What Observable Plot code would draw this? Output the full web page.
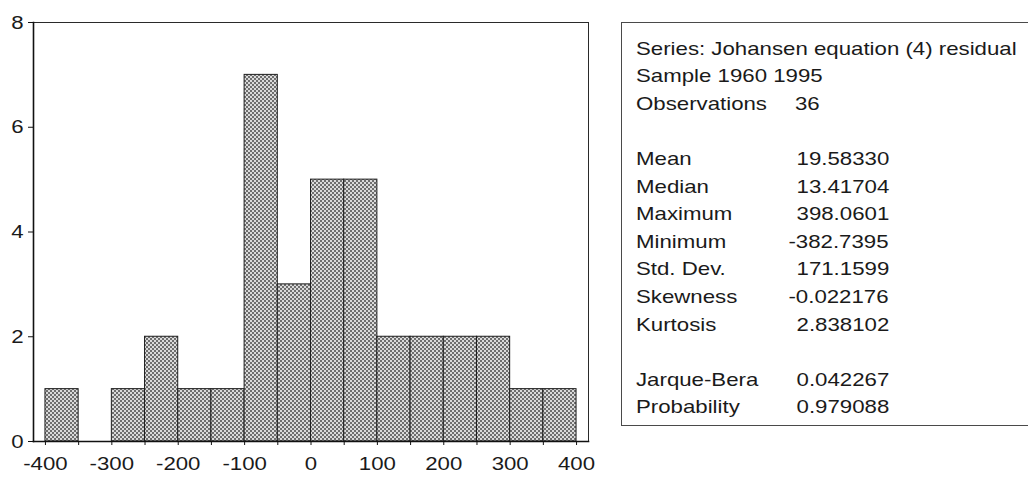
<!DOCTYPE html>
<html>
<head>
<meta charset="utf-8">
<script src="https://cdn.jsdelivr.net/npm/d3@7"></script>
<script src="https://cdn.jsdelivr.net/npm/@observablehq/plot@0.6"></script>
<style>
  html, body { margin: 0; padding: 0; background: #fff; }
  #wrap { position: relative; width: 1028px; height: 477px; overflow: hidden; font-family: "Liberation Sans", Arial, sans-serif; color: #1a1a1a; }
  #chart { position: absolute; left: 0; top: 0; }
  #stats { position: absolute; left: 621px; top: 22px; width: 430px; height: 404px; border: 1.5px solid #4a4a4a; box-sizing: border-box; }
  .row { position: absolute; left: 0; height: 27px; line-height: 27px; font-size: 19px; white-space: nowrap; }
  .lab { position: absolute; left: 14px; transform: scaleX(1.17); transform-origin: left center; }
  .val { position: absolute; transform: scaleX(1.17); transform-origin: right center; }
  .obs { position: absolute; transform: scaleX(1.17); transform-origin: left center; }
</style>
</head>
<body>
<div id="wrap">
  <div id="chart"></div>
  <div id="stats"></div>
</div>
<script>
// Histogram of the residuals: bins of width 50 from -400 to 400
const binEdges = [-400, -350, -300, -250, -200, -150, -100, -50, 0, 50, 100, 150, 200, 250, 300, 350, 400];
const binCounts = [1, 0, 1, 2, 1, 1, 7, 3, 5, 5, 2, 2, 2, 2, 1, 1];

// Axis ticks
const xTickMarks = [-400, -350, -300, -250, -200, -150, -100, -50, 0, 50, 100, 150, 200, 250, 300, 350, 400];
const xTickLabels = [-400, -300, -200, -100, 0, 100, 200, 300, 400];
const yTickLabels = [0, 2, 4, 6, 8];

// Descriptive statistics panel
const headerLines = ["Series: Johansen equation (4) residual", "Sample 1960 1995"];
const obsLabel = "Observations";
const obsValue = "36";
const statLabels = ["Mean", "Median", "Maximum", "Minimum", "Std. Dev.", "Skewness", "Kurtosis"];
const statValues = ["19.58330", "13.41704", "398.0601", "-382.7395", "171.1599", "-0.022176", "2.838102"];
const testLabels = ["Jarque-Bera", "Probability"];
const testValues = ["0.042267", "0.979088"];

const bins = binCounts.map((c, i) => ({x1: binEdges[i], x2: binEdges[i + 1], count: c}));

const stretch = 1.17;

const svg = Plot.plot({
  width: 600,
  height: 477,
  marginLeft: 33,
  marginRight: 12,
  marginTop: 22,
  marginBottom: 36,
  style: {fontFamily: "'Liberation Sans', Arial, sans-serif", fontSize: "19px", color: "#1a1a1a", background: "transparent"},
  x: {domain: [-418, 418]},
  y: {domain: [0, 8]},
  marks: [
    Plot.rectY(bins.filter(d => d.count > 0), {
      x1: "x1", x2: "x2", y: "count",
      fill: "url(#halftone)", stroke: "#1e1e1e", strokeWidth: 1, inset: 0
    }),
    Plot.frame({stroke: "#2a2a2a", strokeWidth: 1}),
    Plot.frame({anchor: "left", stroke: "#111", strokeWidth: 1.6}),
    Plot.frame({anchor: "bottom", stroke: "#111", strokeWidth: 1.6}),
    Plot.axisX({
      ticks: xTickMarks, tickSize: 4, tickPadding: 11, stroke: "#111",
      tickFormat: d => xTickLabels.includes(d) ? String(d) : "", label: null
    }),
    Plot.axisY({
      ticks: yTickLabels, tickSize: 5, tickPadding: 5, stroke: "#111",
      tickFormat: d => String(d), label: null
    })
  ]
});

// halftone fill for the bars
const ns = "http://www.w3.org/2000/svg";
const defs = document.createElementNS(ns, "defs");
defs.innerHTML =
  '<pattern id="halftone" patternUnits="userSpaceOnUse" width="4" height="4">' +
  '<rect width="4" height="4" fill="#dadada"/>' +
  '<rect x="0" y="0" width="2" height="2" fill="#6e6e6e"/>' +
  '<rect x="2" y="2" width="2" height="2" fill="#6e6e6e"/>' +
  '</pattern>';
svg.insertBefore(defs, svg.firstChild);

// widen the tick labels horizontally
svg.querySelectorAll("text").forEach(t => {
  const tr = t.getAttribute("transform");
  if (tr) t.setAttribute("transform", tr + ` scale(${stretch},1)`);
});

document.getElementById("chart").appendChild(svg);

// statistics panel
const stats = document.getElementById("stats");
const lineH = 27.6;
const firstCenter = 25;
const valueRight = 267;
const obsLeft = 173;
let line = 0;
function addRow(label, value, mode) {
  const row = document.createElement("div");
  row.className = "row";
  row.style.top = (firstCenter + line * lineH - 13.5) + "px";
  row.style.width = "420px";
  const l = document.createElement("span");
  l.className = "lab";
  l.textContent = label;
  row.appendChild(l);
  if (value != null) {
    const v = document.createElement("span");
    if (mode === "obs") {
      v.className = "obs";
      v.style.left = obsLeft + "px";
    } else {
      v.className = "val";
      v.style.right = (420 - valueRight) + "px";
    }
    v.textContent = value;
    row.appendChild(v);
  }
  stats.appendChild(row);
  line++;
}
headerLines.forEach(h => addRow(h, null));
addRow(obsLabel, obsValue, "obs");
line++;
statLabels.forEach((s, i) => addRow(s, statValues[i]));
line++;
testLabels.forEach((s, i) => addRow(s, testValues[i]));
</script>
</body>
</html>
